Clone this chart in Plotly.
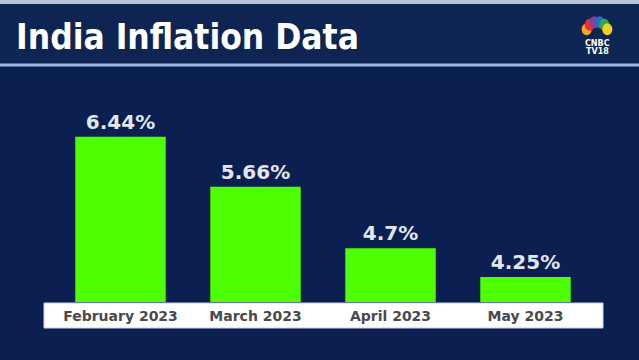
import plotly.graph_objects as go
import math

categories = ["February 2023", "March 2023", "April 2023", "May 2023"]
values = [6.44, 5.66, 4.7, 4.25]
labels = ["6.44%", "5.66%", "4.7%", "4.25%"]

W, H = 639, 360
L, R, T, B = 53, 46, 90, 58
pw, ph = W - L - R, H - T - B

def px(x):
    return (x - L) / pw

def py(y):
    return (H - B - y) / ph

fig = go.Figure(go.Bar(
    x=categories, y=values, text=labels, textposition="outside",
    marker=dict(color="#4dff00", line=dict(width=0)),
    textfont=dict(family="DejaVu Sans", size=20, color="#e3e6ee", weight="bold"),
    cliponaxis=False, width=0.67,
))

shapes = [
    dict(type="rect", xref="paper", yref="paper", x0=px(0), x1=px(W), y0=py(4), y1=py(0),
         fillcolor="#b9c4d3", line=dict(width=0), layer="below"),
    dict(type="rect", xref="paper", yref="paper", x0=px(0), x1=px(W), y0=py(64), y1=py(4),
         fillcolor="#0e2553", line=dict(width=0), layer="below"),
    dict(type="line", xref="paper", yref="paper", x0=px(0), x1=px(W), y0=py(65), y1=py(65),
         line=dict(color="#9db8df", width=3), layer="below"),
    dict(type="rect", xref="paper", yref="paper", x0=px(44), x1=px(603), y0=py(328), y1=py(303),
         fillcolor="#ffffff", line=dict(color="#c9d3e3", width=1), layer="below"),
]

feather_colors = ["#f5a623", "#e8322b", "#8e3c97", "#1f6fc2", "#2ea84a", "#f3d21b"]
cx, cy = 597, 33
for i, c in enumerate(feather_colors):
    ang = math.radians(160 - i * 28)
    fx, fy = cx + 11 * math.cos(ang), cy - 11 * math.sin(ang)
    shapes.append(dict(type="circle", xref="paper", yref="paper",
                       x0=px(fx - 5), x1=px(fx + 5), y0=py(fy + 6), y1=py(fy - 6),
                       fillcolor=c, line=dict(width=0), layer="above"))

annotations = [
    dict(text="<b>India Inflation Data</b>", xref="paper", yref="paper",
         x=px(14), y=py(37), xanchor="left", yanchor="middle", showarrow=False,
         font=dict(family="DejaVu Sans Condensed, Roboto Condensed, Roboto", size=35, color="#ffffff")),
    dict(text="<b>CNBC</b>", xref="paper", yref="paper", x=px(597), y=py(44),
         xanchor="center", yanchor="middle", showarrow=False,
         font=dict(family="DejaVu Sans", size=8, color="#ffffff")),
    dict(text="<b>TV18</b>", xref="paper", yref="paper", x=px(597), y=py(52),
         xanchor="center", yanchor="middle", showarrow=False,
         font=dict(family="DejaVu Sans", size=8, color="#ffffff")),
]

fig.update_layout(
    width=W, height=H,
    margin=dict(l=L, r=R, t=T, b=B),
    paper_bgcolor="#0b2050", plot_bgcolor="rgba(0,0,0,0)",
    showlegend=False, shapes=shapes, annotations=annotations,
    xaxis=dict(showgrid=False, zeroline=False, showline=False, ticks="",
               ticklabelstandoff=4,
               tickfont=dict(family="DejaVu Sans", size=14, color="#4a4a4a", weight="bold")),
    yaxis=dict(range=[3.86, 7.17], visible=False, showgrid=False, zeroline=False),
)

fig.write_html("out.html", config={"displayModeBar": False},
               post_script="document.body.style.margin='0';document.body.style.overflow='hidden';")
